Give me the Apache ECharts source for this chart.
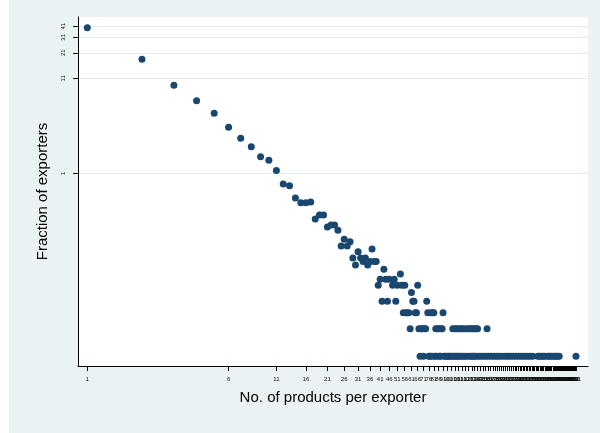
<!DOCTYPE html>
<html><head><meta charset="utf-8">
<script src="https://cdn.jsdelivr.net/npm/echarts@6/dist/echarts.min.js"></script>
<style>html,body{margin:0;padding:0;background:#fff}#c{width:600px;height:433px}</style>
</head><body><div id="c"></div>
<script>
// Head of the distribution: one point per product count
const productsHead = [1,2,3,4,5,6,7,8,9,10,11,12,13,14,15,16,17,18,19,20,21,22,23,24,25,26,27,28,29,30,31,32,33,34,35,36,37,38,39];
const fractionHead = [39.5,17.8,9.23,6.26,4.55,3.20,2.42,1.96,1.52,1.39,1.07,0.763,0.731,0.536,0.476,0.476,0.485,0.315,0.349,0.349,0.258,0.271,0.271,0.237,0.159,0.189,0.159,0.178,0.118,0.0984,0.138,0.118,0.108,0.118,0.0984,0.108,0.148,0.108,0.108];

// Tail: fraction levels and the product counts observed on each level
const tailLevels = [0.00984, 0.0197, 0.0295, 0.0394, 0.0492, 0.0590, 0.0689, 0.0787, 0.0886];
const tailRow1 = [68,71,76,77,79,82,84,87,88,92,94,96,98,100,102,105,107,109,112,115,118,121,125,129,132,135,138,143,147,152,157,162,168,174,180,186,193,200,207,214,222,230,238,246,255,264,273,283,302,309,316,324,331,343,352,361,370,379,388,397,491];
const tailRow2 = [60,67,69,70,72,73,83,85,86,89,90,103,106,108,111,114,116,120,124,127,130,133,136,139,141,159];
const tailRow3 = [55,57,58,59,64,65,75,78,80,81,91];
const tailRow4 = [42,45,50,62,63,74];
const tailRow5 = [61];
const tailRow6 = [40,48,51,54,56,66];
const tailRow7 = [41,44,46,49];
const tailRow8 = [53];
const tailRow9 = [43];
const tailRows = [tailRow1,tailRow2,tailRow3,tailRow4,tailRow5,tailRow6,tailRow7,tailRow8,tailRow9];

// Axis tick values
const xTicks = []; for (let v = 1; v <= 496; v += 5) xTicks.push(v);
const yTicks = [1, 11, 21, 31, 41];

const points = productsHead.map((p, i) => [p, fractionHead[i]]);
tailRows.forEach((row, k) => row.forEach(p => points.push([p, tailLevels[k]])));

const chart = echarts.init(document.getElementById('c'), null, {renderer: 'canvas'});
const FONT = '"Liberation Sans", Arial, Helvetica, sans-serif';
chart.setOption({
  backgroundColor: '#EAF2F3',
  animation: false,
  graphic: [{type: 'rect', left: 0, top: 0, shape: {width: 9, height: 433}, style: {fill: '#ffffff'}, silent: true}],
  grid: {left: 78, right: 12, top: 17, bottom: 67, show: true, backgroundColor: '#ffffff', borderWidth: 0},
  xAxis: {
    type: 'log', logBase: 10, min: 0.889, max: 572,
    name: 'No. of products per exporter', nameLocation: 'middle', nameGap: 24,
    nameTextStyle: {fontFamily: FONT, fontSize: 15, color: '#000'},
    axisLine: {show: true, onZero: false, lineStyle: {color: '#000', width: 1}},
    axisTick: {show: true, length: 5, customValues: xTicks, lineStyle: {color: '#000', width: 1}},
    axisLabel: {show: true, customValues: xTicks, margin: 10, fontFamily: FONT, fontSize: 6, color: '#111', hideOverlap: false},
    splitLine: {show: false}, minorTick: {show: false}
  },
  yAxis: {
    type: 'log', logBase: 10, min: 0.0077, max: 51.8,
    name: 'Fraction of exporters', nameLocation: 'middle', nameGap: 28, nameRotate: 90,
    nameTextStyle: {fontFamily: FONT, fontSize: 15, color: '#000'},
    axisLine: {show: true, onZero: false, lineStyle: {color: '#000', width: 1}},
    axisTick: {show: true, length: 5, customValues: yTicks, lineStyle: {color: '#000', width: 1}},
    axisLabel: {show: true, customValues: yTicks, rotate: 90, margin: 12, fontFamily: FONT, fontSize: 6, color: '#111'},
    splitLine: {show: true, lineStyle: {color: '#E0E9EC', width: 1}}, minorTick: {show: false}
  },
  series: [{
    type: 'scatter', data: points, symbol: 'circle', symbolSize: 7,
    itemStyle: {color: '#1A476F', opacity: 1}, silent: true
  }]
});
</script></body></html>
